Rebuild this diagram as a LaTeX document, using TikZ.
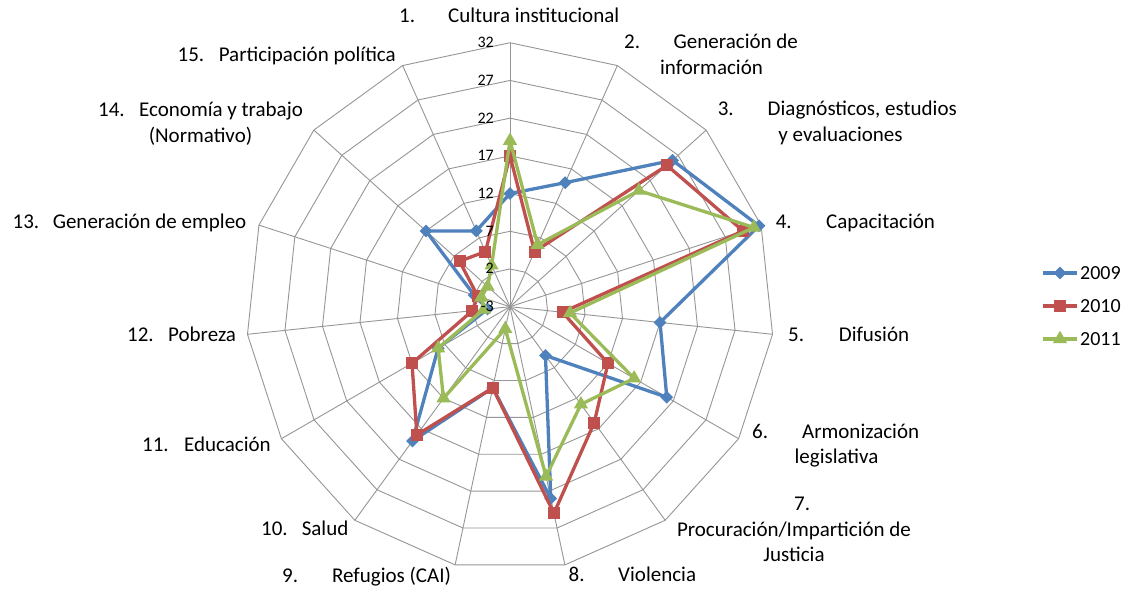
\documentclass[tikz,border=0pt]{standalone}
\usepackage{fontspec}
\setmainfont{Carlito}
\usetikzlibrary{shapes.geometric}
\definecolor{s09}{HTML}{4F81BD}
\definecolor{s10}{HTML}{C0504D}
\definecolor{s11}{HTML}{9BBB59}
\definecolor{gridc}{RGB}{150,150,150}
\begin{document}
\begin{tikzpicture}[x=1pt,y=-1pt,
  gridline/.style={draw=gridc,line width=0.9pt},
  lbl/.style={font=\fontsize{21}{25}\selectfont, inner sep=0pt, text height=13.5pt, text depth=0pt},
  leg/.style={font=\fontsize{20}{24}\selectfont, inner sep=0pt, text height=13pt, text depth=0pt, anchor=west},
  tick/.style={font=\fontsize{16}{18}\selectfont, inner sep=0pt, anchor=east, text height=10pt, text depth=0pt},
  ser/.style={line width=3.3pt, line join=round},
  mkA/.style={diamond, fill=s09, inner sep=0pt, minimum width=13pt, minimum height=13pt},
  mkB/.style={rectangle, fill=s10, inner sep=0pt, minimum size=12pt},
  mkC/.style={regular polygon, regular polygon sides=3, fill=s11, inner sep=0pt, minimum size=16.5pt},
]
\useasboundingbox (0,0) rectangle (1127,592);
\fill[white] (0,0) rectangle (1127,592);
\coordinate (c) at (510,306.7);
% grid rings
\foreach \k in {1,...,7}{
  \draw[gridline] ({510},{306.7-37.71*\k})
    \foreach \a in {24,48,...,336}{ -- ({510+37.71*\k*sin(\a)},{306.7-37.71*\k*cos(\a)}) } -- cycle;
}
% spokes
\foreach \i in {1,...,15}{
  \coordinate (o\i) at ({510+264*sin((\i-1)*24)},{306.7-264*cos((\i-1)*24)});
  \draw[gridline] (c) -- (o\i);
}
% data coordinates
\foreach \v [count=\i] in {12,15,26,31.7,17,21,5,23,8,19,8,0,2,12,8}{
  \coordinate (a\i) at ({510+7.543*(\v+3)*sin((\i-1)*24)},{306.7-7.543*(\v+3)*cos((\i-1)*24)});
}
\foreach \v [count=\i] in {17,5,25,29.5,4,12,16,25,8,18,12,2,1.5,6,5}{
  \coordinate (b\i) at ({510+7.543*(\v+3)*sin((\i-1)*24)},{306.7-7.543*(\v+3)*cos((\i-1)*24)});
}
\foreach \v [count=\i] in {19,6,20,31,5,16,13,20,0,12,8,0.5,1,1,3}{
  \coordinate (g\i) at ({510+7.543*(\v+3)*sin((\i-1)*24)},{306.7-7.543*(\v+3)*cos((\i-1)*24)});
}
% series 2009
\draw[ser,s09] (a1) \foreach \i in {2,...,15}{ -- (a\i) } -- cycle;
\foreach \i in {1,...,15}{ \node[mkA] (ma\i) at (a\i) {}; }
% series 2010
\draw[ser,s10] (b1) \foreach \i in {2,...,15}{ -- (b\i) } -- cycle;
\foreach \i in {1,...,15}{ \node[mkB] (mb\i) at (b\i) {}; }
% series 2011
\draw[ser,s11] (g1) \foreach \i in {2,...,15}{ -- (g\i) } -- cycle;
\foreach \i in {1,...,15}{ \node[mkC] (mg\i) at (g\i) {}; }
% tick labels
\foreach \t [count=\k from 0] in {-3,2,7,12,17,22,27,32}{
  \node[tick] (tk\k) at (494,{306.7-37.71*\k}) {\t};
}
% axis labels
\node[lbl,anchor=west] (t1) at (399,16) {1.\hspace{33pt}Cultura institucional};
\node[lbl,anchor=west] (t2a) at (624,42) {2.\hspace{33.6pt}Generación de};
\node[lbl] (t2b) at (711.5,68) {información};
\node[lbl,anchor=west] (t3a) at (717.6,109) {3.\hspace{34pt}Diagnósticos, estudios};
\node[lbl] (t3b) at (840.5,135) {y evaluaciones};
\node[lbl,anchor=west] (t4) at (775.6,222) {4.\hspace{34.5pt}Capacitación};
\node[lbl,anchor=west] (t5) at (788,335) {5.\hspace{34.7pt}Difusión};
\node[lbl,anchor=west] (t6a) at (752,431.7) {6.\hspace{34pt}Armonización};
\node[lbl] (t6b) at (836.5,456.7) {legislativa};
\node[lbl,anchor=west] (t7a) at (794,504) {7.};
\node[lbl] (t7b) at (794,530) {Procuración/Impartición de};
\node[lbl] (t7c) at (794,555) {Justicia};
\node[lbl,anchor=west] (t8) at (568.5,575) {8.\hspace{33.6pt}Violencia};
\node[lbl,anchor=west] (t9) at (282,576) {9.\hspace{34pt}Refugios (CAI)};
\node[lbl,anchor=west] (t10) at (261,529) {10.\hspace{14pt}Salud};
\node[lbl,anchor=west] (t11) at (142,445) {11.\hspace{15.4pt}Educación};
\node[lbl,anchor=west] (t12) at (127,335) {12.\hspace{14.4pt}Pobreza};
\node[lbl,anchor=west] (t13) at (12.5,221.7) {13.\hspace{13.5pt}Generación de empleo};
\node[lbl,anchor=west] (t14a) at (98,110) {14.\hspace{14.4pt}Economía y trabajo};
\node[lbl] (t14b) at (200.5,136) {(Normativo)};
\node[lbl,anchor=west] (t15) at (177.5,55) {15.\hspace{14.5pt}Participación política};
% legend
\coordinate (la1) at (1043,273); \coordinate (la2) at (1077,273);
\coordinate (lb1) at (1043,306); \coordinate (lb2) at (1077,306);
\coordinate (lc1) at (1043,339); \coordinate (lc2) at (1077,339);
\draw[ser,s09] (la1) -- (la2); \node[mkA] (lma) at (1060,273) {};
\draw[ser,s10] (lb1) -- (lb2); \node[mkB] (lmb) at (1060,306) {};
\draw[ser,s11] (lc1) -- (lc2); \node[mkC] (lmc) at (1060,339) {};
\node[leg] (l09) at (1080,273) {2009};
\node[leg] (l10) at (1080,306) {2010};
\node[leg] (l11) at (1080,339) {2011};
\end{tikzpicture}
\end{document}
